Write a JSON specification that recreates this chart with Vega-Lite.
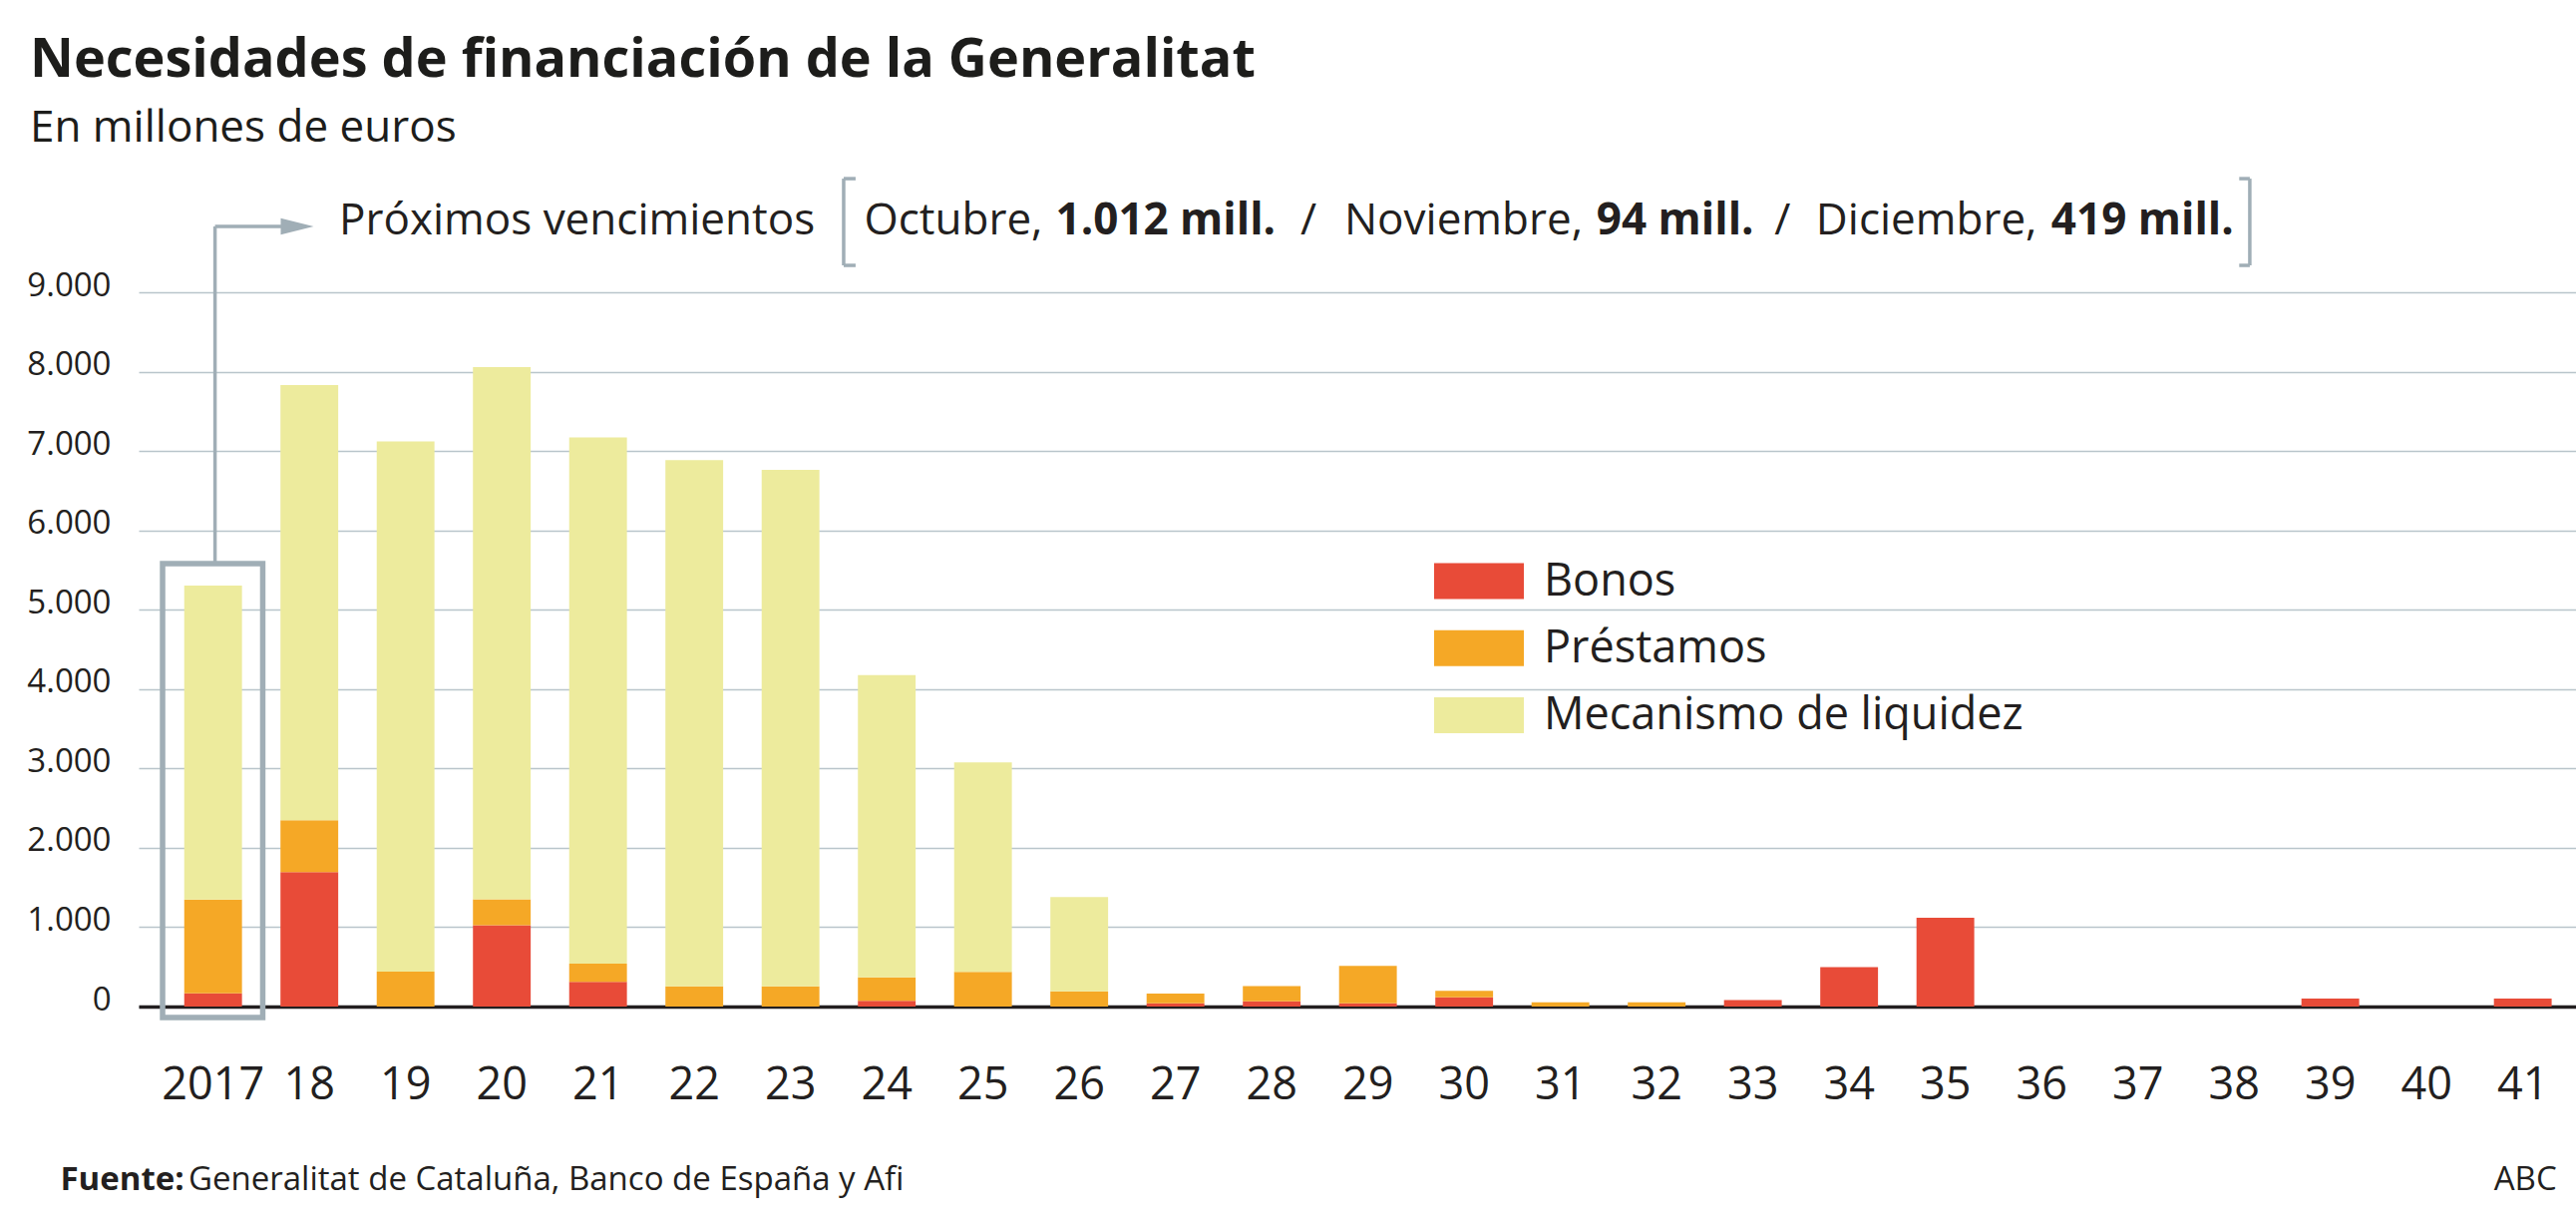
{
  "$schema": "https://vega.github.io/schema/vega-lite/v6.json",
  "width": 2444,
  "height": 716,
  "autosize": {"type": "none"},
  "padding": {"left": 139, "top": 293, "right": 0, "bottom": 220},
  "background": "white",
  "title": {
    "text": "Necesidades de financiación de la Generalitat",
    "subtitle": "En millones de euros",
    "anchor": "start",
    "frame": "group",
    "dx": -109,
    "offset": 26,
    "font": "Open Sans",
    "fontSize": 54,
    "fontWeight": "bold",
    "color": "#1d1d1b",
    "subtitleFont": "Open Sans",
    "subtitleFontSize": 44,
    "subtitleColor": "#1d1d1b",
    "subtitlePadding": 19
  },
  "datasets": {
    "barras": [
      {"año": "2017", "tipo": "Bonos", "millones": 168, "orden": 1},
      {"año": "2017", "tipo": "Préstamos", "millones": 1180, "orden": 2},
      {"año": "2017", "tipo": "Mecanismo de liquidez", "millones": 3955, "orden": 3},
      {"año": "18", "tipo": "Bonos", "millones": 1695, "orden": 1},
      {"año": "18", "tipo": "Préstamos", "millones": 652, "orden": 2},
      {"año": "18", "tipo": "Mecanismo de liquidez", "millones": 5485, "orden": 3},
      {"año": "19", "tipo": "Préstamos", "millones": 440, "orden": 2},
      {"año": "19", "tipo": "Mecanismo de liquidez", "millones": 6680, "orden": 3},
      {"año": "20", "tipo": "Bonos", "millones": 1025, "orden": 1},
      {"año": "20", "tipo": "Préstamos", "millones": 325, "orden": 2},
      {"año": "20", "tipo": "Mecanismo de liquidez", "millones": 6707, "orden": 3},
      {"año": "21", "tipo": "Bonos", "millones": 312, "orden": 1},
      {"año": "21", "tipo": "Préstamos", "millones": 230, "orden": 2},
      {"año": "21", "tipo": "Mecanismo de liquidez", "millones": 6630, "orden": 3},
      {"año": "22", "tipo": "Préstamos", "millones": 255, "orden": 2},
      {"año": "22", "tipo": "Mecanismo de liquidez", "millones": 6630, "orden": 3},
      {"año": "23", "tipo": "Préstamos", "millones": 255, "orden": 2},
      {"año": "23", "tipo": "Mecanismo de liquidez", "millones": 6507, "orden": 3},
      {"año": "24", "tipo": "Bonos", "millones": 72, "orden": 1},
      {"año": "24", "tipo": "Préstamos", "millones": 295, "orden": 2},
      {"año": "24", "tipo": "Mecanismo de liquidez", "millones": 3810, "orden": 3},
      {"año": "25", "tipo": "Préstamos", "millones": 437, "orden": 2},
      {"año": "25", "tipo": "Mecanismo de liquidez", "millones": 2640, "orden": 3},
      {"año": "26", "tipo": "Préstamos", "millones": 193, "orden": 2},
      {"año": "26", "tipo": "Mecanismo de liquidez", "millones": 1188, "orden": 3},
      {"año": "27", "tipo": "Bonos", "millones": 42, "orden": 1},
      {"año": "27", "tipo": "Préstamos", "millones": 121, "orden": 2},
      {"año": "28", "tipo": "Bonos", "millones": 67, "orden": 1},
      {"año": "28", "tipo": "Préstamos", "millones": 190, "orden": 2},
      {"año": "29", "tipo": "Bonos", "millones": 42, "orden": 1},
      {"año": "29", "tipo": "Préstamos", "millones": 470, "orden": 2},
      {"año": "30", "tipo": "Bonos", "millones": 117, "orden": 1},
      {"año": "30", "tipo": "Préstamos", "millones": 80, "orden": 2},
      {"año": "31", "tipo": "Préstamos", "millones": 54, "orden": 2},
      {"año": "32", "tipo": "Préstamos", "millones": 54, "orden": 2},
      {"año": "33", "tipo": "Bonos", "millones": 82, "orden": 1},
      {"año": "34", "tipo": "Bonos", "millones": 496, "orden": 1},
      {"año": "35", "tipo": "Bonos", "millones": 1119, "orden": 1},
      {"año": "39", "tipo": "Bonos", "millones": 100, "orden": 1},
      {"año": "41", "tipo": "Bonos", "millones": 100, "orden": 1}
    ],
    "segmentos": [
      {"u": 0.794, "u2": 0.794, "y": 5581, "y2": 9829},
      {"u": 0.794, "u2": 1.6, "y": 9829, "y2": 9829},
      {"u": 7.327, "u2": 7.327, "y": 9339, "y2": 10432},
      {"u": 7.327, "u2": 7.451, "y": 10432, "y2": 10432},
      {"u": 7.327, "u2": 7.451, "y": 9339, "y2": 9339},
      {"u": 21.94, "u2": 21.94, "y": 9339, "y2": 10432},
      {"u": 21.83, "u2": 21.94, "y": 10432, "y2": 10432},
      {"u": 21.83, "u2": 21.94, "y": 9339, "y2": 9339}
    ],
    "recuadro": [
      {"u": 0.249, "u2": 1.29, "y": -138, "y2": 5581}
    ],
    "flecha": [
      {"u": 1.648, "y": 9829}
    ],
    "textos": [
      {"u": 2.083, "y": 9728, "t": "Próximos vencimientos", "g": "normal"},
      {"u": 7.54, "y": 9728, "t": "Octubre,", "g": "normal"},
      {"u": 9.53, "y": 9728, "t": "1.012 mill.", "g": "negrita"},
      {"u": 12.074, "y": 9728, "t": "/", "g": "normal"},
      {"u": 12.53, "y": 9728, "t": "Noviembre,", "g": "normal"},
      {"u": 15.151, "y": 9728, "t": "94 mill.", "g": "negrita"},
      {"u": 17.0, "y": 9728, "t": "/", "g": "normal"},
      {"u": 17.431, "y": 9728, "t": "Diciembre,", "g": "normal"},
      {"u": 19.877, "y": 9728, "t": "419 mill.", "g": "negrita"},
      {"u": -0.8135, "y": -2313, "t": "Fuente:", "g": "fuente_negrita"},
      {"u": 0.518, "y": -2313, "t": "Generalitat de Cataluña, Banco de España y Afi", "g": "fuente"},
      {"u": 25.13, "y": -2313, "t": "ABC", "g": "firma"}
    ]
  },
  "layer": [
    {
      "data": {"name": "barras"},
      "mark": {"type": "bar"},
      "encoding": {
        "x": {
          "field": "año",
          "type": "ordinal",
          "sort": null,
          "scale": {
            "domain": ["2017", "18", "19", "20", "21", "22", "23", "24", "25", "26", "27", "28", "29", "30", "31", "32", "33", "34", "35", "36", "37", "38", "39", "40", "41"],
            "paddingInner": 0.4,
            "paddingOuter": 0.3635,
            "align": 0.652
          },
          "axis": {"title": null}
        },
        "y": {
          "field": "millones",
          "type": "quantitative",
          "stack": "zero",
          "scale": {"domain": [0, 9000], "nice": false},
          "axis": {
            "title": null,
            "values": [0, 1000, 2000, 3000, 4000, 5000, 6000, 7000, 8000, 9000],
            "labelExpr": "replace(format(datum.value, ','), ',', '.')"
          }
        },
        "color": {
          "field": "tipo",
          "type": "nominal",
          "scale": {
            "domain": ["Bonos", "Préstamos", "Mecanismo de liquidez"],
            "range": ["#E84B38", "#F5A826", "#EDEB9D"]
          },
          "legend": {
            "title": null,
            "orient": "none",
            "legendX": 1299,
            "legendY": 259.5,
            "direction": "vertical",
            "padding": 0,
            "symbolType": "M-1.5,-0.6H1.5V0.6H-1.5Z",
            "symbolSize": 3600,
            "symbolOffset": 15,
            "symbolStrokeWidth": 0,
            "labelOffset": 35,
            "labelFont": "Open Sans",
            "labelFontSize": 45,
            "labelColor": "#231F20",
            "labelLimit": 0,
            "rowPadding": 14.2
          }
        },
        "order": {"field": "orden", "type": "quantitative"}
      }
    },
    {
      "layer": [
        {
          "data": {"name": "segmentos"},
          "mark": {"type": "rule", "color": "#A0AEB6", "strokeWidth": 3.5},
          "encoding": {
            "x": {"field": "u", "type": "quantitative", "scale": {"domain": [0, 25.33], "nice": false, "zero": false}, "axis": null},
            "x2": {"field": "u2"},
            "y": {"field": "y", "type": "quantitative", "scale": {"domain": [0, 9000], "nice": false}, "title": null},
            "y2": {"field": "y2"}
          }
        },
        {
          "data": {"name": "recuadro"},
          "mark": {"type": "rect", "fill": null, "stroke": "#A0AEB6", "strokeWidth": 5.5},
          "encoding": {
            "x": {"field": "u", "type": "quantitative", "scale": {"domain": [0, 25.33], "nice": false, "zero": false}, "axis": null},
            "x2": {"field": "u2"},
            "y": {"field": "y", "type": "quantitative", "scale": {"domain": [0, 9000], "nice": false}, "title": null},
            "y2": {"field": "y2"}
          }
        },
        {
          "data": {"name": "flecha"},
          "mark": {"type": "point", "shape": "M-1,-0.5L1,0L-1,0.5Z", "size": 1089, "filled": true, "color": "#A0AEB6", "opacity": 1},
          "encoding": {
            "x": {"field": "u", "type": "quantitative", "scale": {"domain": [0, 25.33], "nice": false, "zero": false}, "axis": null},
            "y": {"field": "y", "type": "quantitative", "scale": {"domain": [0, 9000], "nice": false}, "title": null}
          }
        },
        {
          "data": {"name": "textos"},
          "transform": [{"filter": "datum.g == 'normal'"}],
          "mark": {"type": "text", "align": "left", "baseline": "alphabetic", "font": "Open Sans", "fontSize": 44, "color": "#231F20"},
          "encoding": {
            "x": {"field": "u", "type": "quantitative", "scale": {"domain": [0, 25.33], "nice": false, "zero": false}, "axis": null},
            "y": {"field": "y", "type": "quantitative", "scale": {"domain": [0, 9000], "nice": false}, "title": null},
            "text": {"field": "t"}
          }
        },
        {
          "data": {"name": "textos"},
          "transform": [{"filter": "datum.g == 'negrita'"}],
          "mark": {"type": "text", "align": "left", "baseline": "alphabetic", "font": "Open Sans", "fontSize": 44, "fontWeight": "bold", "color": "#231F20"},
          "encoding": {
            "x": {"field": "u", "type": "quantitative", "scale": {"domain": [0, 25.33], "nice": false, "zero": false}, "axis": null},
            "y": {"field": "y", "type": "quantitative", "scale": {"domain": [0, 9000], "nice": false}, "title": null},
            "text": {"field": "t"}
          }
        },
        {
          "data": {"name": "textos"},
          "transform": [{"filter": "datum.g == 'fuente_negrita'"}],
          "mark": {"type": "text", "align": "left", "baseline": "alphabetic", "font": "Open Sans", "fontSize": 33, "fontWeight": "bold", "color": "#231F20"},
          "encoding": {
            "x": {"field": "u", "type": "quantitative", "scale": {"domain": [0, 25.33], "nice": false, "zero": false}, "axis": null},
            "y": {"field": "y", "type": "quantitative", "scale": {"domain": [0, 9000], "nice": false}, "title": null},
            "text": {"field": "t"}
          }
        },
        {
          "data": {"name": "textos"},
          "transform": [{"filter": "datum.g == 'fuente'"}],
          "mark": {"type": "text", "align": "left", "baseline": "alphabetic", "font": "Open Sans", "fontSize": 33, "color": "#231F20"},
          "encoding": {
            "x": {"field": "u", "type": "quantitative", "scale": {"domain": [0, 25.33], "nice": false, "zero": false}, "axis": null},
            "y": {"field": "y", "type": "quantitative", "scale": {"domain": [0, 9000], "nice": false}, "title": null},
            "text": {"field": "t"}
          }
        },
        {
          "data": {"name": "textos"},
          "transform": [{"filter": "datum.g == 'firma'"}],
          "mark": {"type": "text", "align": "right", "baseline": "alphabetic", "font": "Open Sans", "fontSize": 33, "color": "#231F20"},
          "encoding": {
            "x": {"field": "u", "type": "quantitative", "scale": {"domain": [0, 25.33], "nice": false, "zero": false}, "axis": null},
            "y": {"field": "y", "type": "quantitative", "scale": {"domain": [0, 9000], "nice": false}, "title": null},
            "text": {"field": "t"}
          }
        }
      ]
    }
  ],
  "resolve": {"scale": {"x": "independent"}},
  "config": {
    "view": {"stroke": null},
    "font": "Open Sans",
    "axisX": {
      "domainColor": "#231F20",
      "domainWidth": 3.5,
      "ticks": false,
      "grid": false,
      "labelFont": "Open Sans",
      "labelFontSize": 45,
      "labelColor": "#231F20",
      "labelPadding": 92,
      "labelBaseline": "alphabetic",
      "labelAngle": 0,
      "zindex": 1
    },
    "axisY": {
      "domain": false,
      "ticks": false,
      "grid": true,
      "gridColor": "#B9C5CB",
      "gridWidth": 1.5,
      "labelFont": "Open Sans",
      "labelFontSize": 33,
      "labelColor": "#231F20",
      "labelPadding": 28,
      "labelBaseline": "alphabetic",
      "labelOffset": 3,
      "zindex": 0
    }
  }
}
